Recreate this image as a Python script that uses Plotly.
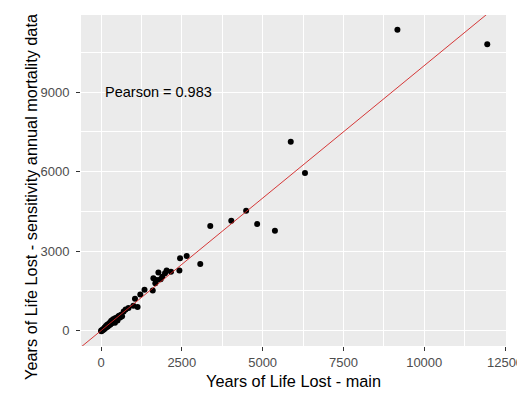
import plotly.graph_objects as go

# Years of life lost per group: main analysis vs. sensitivity (annual mortality data)
yll_main = [0, 15, 30, 50, 70, 90, 110, 130, 150, 170, 190, 210, 230, 250, 270,
            290, 310, 330, 350, 370, 390, 410, 430, 450, 470, 490, 510, 530, 560,
            590, 620, 650, 700, 760, 850, 1000, 1130, 1050, 1215, 1345, 1600, 1680,
            1620, 1725, 1845, 1895, 1775, 1980, 2030, 2165, 2425, 2445, 2650, 3070,
            3380, 4030, 4490, 4830, 5380, 5870, 6310, 9170, 11950]
yll_sens = [0, -20, 25, 10, 60, 40, 120, 90, 170, 130, 220, 160, 250, 200, 300,
            230, 360, 280, 400, 320, 440, 370, 300, 480, 420, 470, 380, 530, 560,
            500, 600, 540, 720, 800, 850, 940, 890, 1200, 1360, 1540, 1510, 1790,
            1975, 1910, 1940, 2035, 2190, 2165, 2265, 2225, 2265, 2730, 2815, 2515,
            3950, 4150, 4520, 4020, 3770, 7130, 5950, 11350, 10810]

# identity reference line y = x
ref_x = [-1000, 14000]
pearson_label = "Pearson = 0.983"
x_title = "Years of Life Lost - main"
y_title = "Years of Life Lost - sensitivity annual mortality data"

x_ticks = [0, 2500, 5000, 7500, 10000, 12500]
y_ticks = [0, 3000, 6000, 9000]

FONT = "Liberation Sans, Arial, sans-serif"

fig = go.Figure()
fig.add_trace(go.Scatter(
    x=yll_main, y=yll_sens, mode="markers",
    marker=dict(color="black", size=6, line=dict(width=0)),
    showlegend=False, hoverinfo="x+y"))
fig.add_trace(go.Scatter(
    x=ref_x, y=ref_x, mode="lines",
    line=dict(color="rgb(210,35,35)", width=0.9),
    showlegend=False, hoverinfo="skip"))

fig.add_annotation(x=1780, y=9000, xref="x", yref="y", text=pearson_label,
                   showarrow=False, font=dict(family=FONT, size=14.5, color="black"),
                   xanchor="center", yanchor="middle")

# rotated y-axis title
fig.add_annotation(x=-0.118, y=0.453, xref="paper", yref="paper", text=y_title,
                   textangle=-90, showarrow=False,
                   font=dict(family=FONT, size=16.3, color="black"),
                   xanchor="center", yanchor="middle")

axis_common = dict(
    showline=False, zeroline=False, gridcolor="white", gridwidth=1.1,
    ticks="outside", ticklen=4, tickwidth=1, tickcolor="#333333",
    tickfont=dict(family=FONT, size=13, color="#4D4D4D"),
    ticklabeloverflow="allow", automargin=False,
)

fig.update_layout(
    width=517, height=396,
    margin=dict(l=81, r=11, t=15, b=50, pad=0, autoexpand=False),
    paper_bgcolor="white", plot_bgcolor="#EBEBEB",
    font=dict(family=FONT, color="black"),
    xaxis=dict(range=[-620, 12530], tickvals=x_ticks,
               ticktext=[str(v) for v in x_ticks],
               minor=dict(dtick=1250, tick0=0, showgrid=True, gridcolor="white",
                          gridwidth=0.5, ticks=""),
               title=dict(text=x_title,
                          font=dict(family=FONT, size=16.3, color="black"), standoff=6),
               **axis_common),
    yaxis=dict(range=[-580, 11910], tickvals=y_ticks,
               ticktext=[str(v) for v in y_ticks],
               minor=dict(dtick=1500, tick0=0, showgrid=True, gridcolor="white",
                          gridwidth=0.5, ticks=""),
               ticklabelstandoff=4,
               **axis_common),
)

fig.write_html("out.html")
